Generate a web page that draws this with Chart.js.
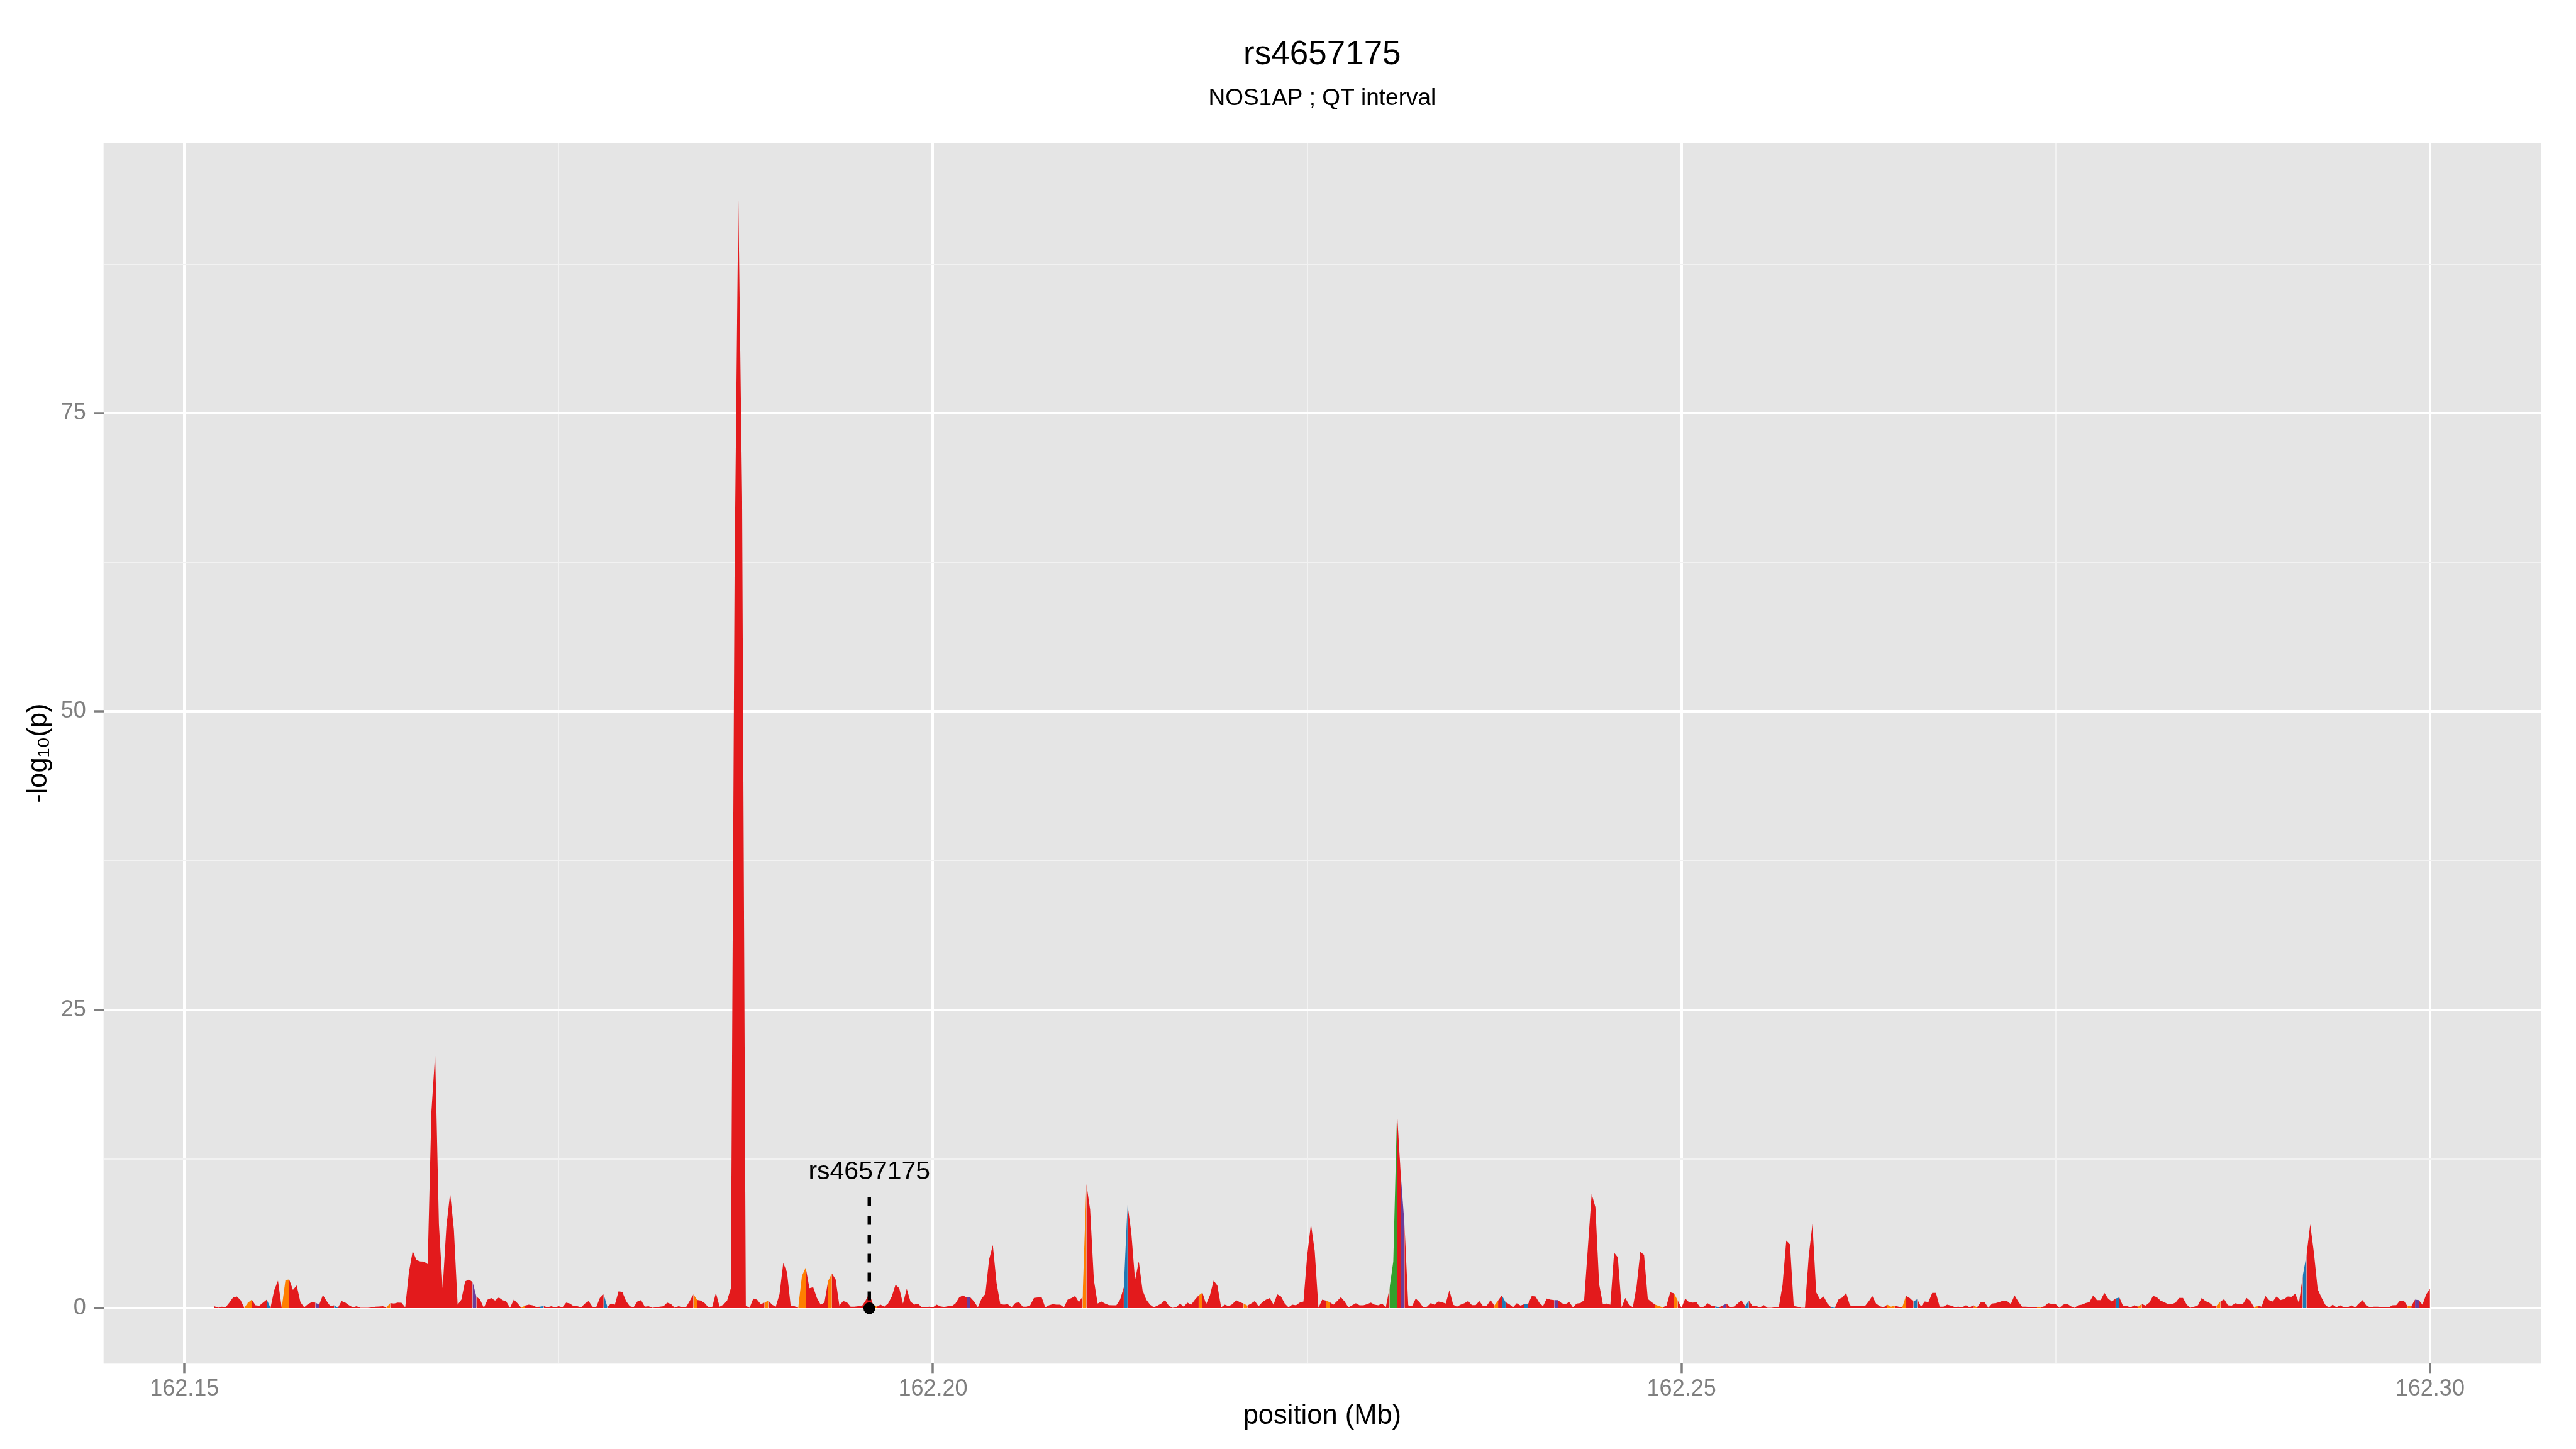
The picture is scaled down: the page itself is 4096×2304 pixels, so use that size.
<!DOCTYPE html>
<html>
<head>
<meta charset="utf-8">
<title>rs4657175 - NOS1AP ; QT interval</title>
<script src="https://cdn.jsdelivr.net/npm/chart.js@4.4.1/dist/chart.umd.min.js"></script>
<style>
  html, body { margin: 0; padding: 0; background: #ffffff; }
  #wrap { width: 4096px; height: 2304px; }
</style>
</head>
<body>
<div id="wrap"><canvas id="locusChart" width="4096" height="2304"></canvas></div>
<script>
// SNP positions (Mb), 8 per row
const positionMb = [
  162.15200, 162.15225, 162.15250, 162.15275, 162.15300, 162.15325, 162.15350, 162.15375,
  162.15400, 162.15425, 162.15450, 162.15475, 162.15500, 162.15525, 162.15550, 162.15575,
  162.15600, 162.15625, 162.15650, 162.15675, 162.15700, 162.15725, 162.15750, 162.15775,
  162.15800, 162.15825, 162.15850, 162.15875, 162.15900, 162.15925, 162.15950, 162.15975,
  162.16000, 162.16025, 162.16050, 162.16075, 162.16100, 162.16125, 162.16150, 162.16175,
  162.16200, 162.16225, 162.16250, 162.16275, 162.16300, 162.16325, 162.16350, 162.16375,
  162.16400, 162.16425, 162.16450, 162.16475, 162.16500, 162.16525, 162.16550, 162.16575,
  162.16600, 162.16625, 162.16650, 162.16675, 162.16700, 162.16725, 162.16750, 162.16775,
  162.16800, 162.16825, 162.16850, 162.16875, 162.16900, 162.16925, 162.16950, 162.16975,
  162.17000, 162.17025, 162.17050, 162.17075, 162.17100, 162.17125, 162.17150, 162.17175,
  162.17200, 162.17225, 162.17250, 162.17275, 162.17300, 162.17325, 162.17350, 162.17375,
  162.17400, 162.17425, 162.17450, 162.17475, 162.17500, 162.17525, 162.17550, 162.17575,
  162.17600, 162.17625, 162.17650, 162.17675, 162.17700, 162.17725, 162.17750, 162.17775,
  162.17800, 162.17825, 162.17850, 162.17875, 162.17900, 162.17925, 162.17950, 162.17975,
  162.18000, 162.18025, 162.18050, 162.18075, 162.18100, 162.18125, 162.18150, 162.18175,
  162.18200, 162.18225, 162.18250, 162.18275, 162.18300, 162.18325, 162.18350, 162.18375,
  162.18400, 162.18425, 162.18450, 162.18475, 162.18500, 162.18525, 162.18550, 162.18575,
  162.18600, 162.18625, 162.18650, 162.18675, 162.18700, 162.18725, 162.18750, 162.18775,
  162.18800, 162.18825, 162.18850, 162.18875, 162.18900, 162.18925, 162.18950, 162.18975,
  162.19000, 162.19025, 162.19050, 162.19075, 162.19100, 162.19125, 162.19150, 162.19175,
  162.19200, 162.19225, 162.19250, 162.19275, 162.19300, 162.19325, 162.19350, 162.19375,
  162.19400, 162.19425, 162.19450, 162.19475, 162.19500, 162.19525, 162.19550, 162.19575,
  162.19600, 162.19625, 162.19650, 162.19675, 162.19700, 162.19725, 162.19750, 162.19775,
  162.19800, 162.19825, 162.19850, 162.19875, 162.19900, 162.19925, 162.19950, 162.19975,
  162.20000, 162.20025, 162.20050, 162.20075, 162.20100, 162.20125, 162.20150, 162.20175,
  162.20200, 162.20225, 162.20250, 162.20275, 162.20300, 162.20325, 162.20350, 162.20375,
  162.20400, 162.20425, 162.20450, 162.20475, 162.20500, 162.20525, 162.20550, 162.20575,
  162.20600, 162.20625, 162.20650, 162.20675, 162.20700, 162.20725, 162.20750, 162.20775,
  162.20800, 162.20825, 162.20850, 162.20875, 162.20900, 162.20925, 162.20950, 162.20975,
  162.21000, 162.21025, 162.21050, 162.21075, 162.21100, 162.21125, 162.21150, 162.21175,
  162.21200, 162.21225, 162.21250, 162.21275, 162.21300, 162.21325, 162.21350, 162.21375,
  162.21400, 162.21425, 162.21450, 162.21475, 162.21500, 162.21525, 162.21550, 162.21575,
  162.21600, 162.21625, 162.21650, 162.21675, 162.21700, 162.21725, 162.21750, 162.21775,
  162.21800, 162.21825, 162.21850, 162.21875, 162.21900, 162.21925, 162.21950, 162.21975,
  162.22000, 162.22025, 162.22050, 162.22075, 162.22100, 162.22125, 162.22150, 162.22175,
  162.22200, 162.22225, 162.22250, 162.22275, 162.22300, 162.22325, 162.22350, 162.22375,
  162.22400, 162.22425, 162.22450, 162.22475, 162.22500, 162.22525, 162.22550, 162.22575,
  162.22600, 162.22625, 162.22650, 162.22675, 162.22700, 162.22725, 162.22750, 162.22775,
  162.22800, 162.22825, 162.22850, 162.22875, 162.22900, 162.22925, 162.22950, 162.22975,
  162.23000, 162.23025, 162.23050, 162.23075, 162.23100, 162.23125, 162.23150, 162.23175,
  162.23200, 162.23225, 162.23250, 162.23275, 162.23300, 162.23325, 162.23350, 162.23375,
  162.23400, 162.23425, 162.23450, 162.23475, 162.23500, 162.23525, 162.23550, 162.23575,
  162.23600, 162.23625, 162.23650, 162.23675, 162.23700, 162.23725, 162.23750, 162.23775,
  162.23800, 162.23825, 162.23850, 162.23875, 162.23900, 162.23925, 162.23950, 162.23975,
  162.24000, 162.24025, 162.24050, 162.24075, 162.24100, 162.24125, 162.24150, 162.24175,
  162.24200, 162.24225, 162.24250, 162.24275, 162.24300, 162.24325, 162.24350, 162.24375,
  162.24400, 162.24425, 162.24450, 162.24475, 162.24500, 162.24525, 162.24550, 162.24575,
  162.24600, 162.24625, 162.24650, 162.24675, 162.24700, 162.24725, 162.24750, 162.24775,
  162.24800, 162.24825, 162.24850, 162.24875, 162.24900, 162.24925, 162.24950, 162.24975,
  162.25000, 162.25025, 162.25050, 162.25075, 162.25100, 162.25125, 162.25150, 162.25175,
  162.25200, 162.25225, 162.25250, 162.25275, 162.25300, 162.25325, 162.25350, 162.25375,
  162.25400, 162.25425, 162.25450, 162.25475, 162.25500, 162.25525, 162.25550, 162.25575,
  162.25600, 162.25625, 162.25650, 162.25675, 162.25700, 162.25725, 162.25750, 162.25775,
  162.25800, 162.25825, 162.25850, 162.25875, 162.25900, 162.25925, 162.25950, 162.25975,
  162.26000, 162.26025, 162.26050, 162.26075, 162.26100, 162.26125, 162.26150, 162.26175,
  162.26200, 162.26225, 162.26250, 162.26275, 162.26300, 162.26325, 162.26350, 162.26375,
  162.26400, 162.26425, 162.26450, 162.26475, 162.26500, 162.26525, 162.26550, 162.26575,
  162.26600, 162.26625, 162.26650, 162.26675, 162.26700, 162.26725, 162.26750, 162.26775,
  162.26800, 162.26825, 162.26850, 162.26875, 162.26900, 162.26925, 162.26950, 162.26975,
  162.27000, 162.27025, 162.27050, 162.27075, 162.27100, 162.27125, 162.27150, 162.27175,
  162.27200, 162.27225, 162.27250, 162.27275, 162.27300, 162.27325, 162.27350, 162.27375,
  162.27400, 162.27425, 162.27450, 162.27475, 162.27500, 162.27525, 162.27550, 162.27575,
  162.27600, 162.27625, 162.27650, 162.27675, 162.27700, 162.27725, 162.27750, 162.27775,
  162.27800, 162.27825, 162.27850, 162.27875, 162.27900, 162.27925, 162.27950, 162.27975,
  162.28000, 162.28025, 162.28050, 162.28075, 162.28100, 162.28125, 162.28150, 162.28175,
  162.28200, 162.28225, 162.28250, 162.28275, 162.28300, 162.28325, 162.28350, 162.28375,
  162.28400, 162.28425, 162.28450, 162.28475, 162.28500, 162.28525, 162.28550, 162.28575,
  162.28600, 162.28625, 162.28650, 162.28675, 162.28700, 162.28725, 162.28750, 162.28775,
  162.28800, 162.28825, 162.28850, 162.28875, 162.28900, 162.28925, 162.28950, 162.28975,
  162.29000, 162.29025, 162.29050, 162.29075, 162.29100, 162.29125, 162.29150, 162.29175,
  162.29200, 162.29225, 162.29250, 162.29275, 162.29300, 162.29325, 162.29350, 162.29375,
  162.29400, 162.29425, 162.29450, 162.29475, 162.29500, 162.29525, 162.29550, 162.29575,
  162.29600, 162.29625, 162.29650, 162.29675, 162.29700, 162.29725, 162.29750, 162.29775,
  162.29800, 162.29825, 162.29850, 162.29875, 162.29900, 162.29925, 162.29950, 162.29975,
  162.30000
];

// -log10(p), same rows as positionMb
const logP = [
  0.16, 0.03, 0.12, 0.07, 0.47, 0.9, 0.98, 0.67,
  0.03, 0.47, 0.72, 0.24, 0.2, 0.47, 0.71, 0.03,
  1.5, 2.31, 0.03, 2.36, 2.4, 1.53, 1.9, 0.5,
  0.07, 0.33, 0.5, 0.47, 0.29, 1.1, 0.6, 0.16,
  0.24, 0.03, 0.59, 0.47, 0.24, 0.07, 0.16, 0.03,
  0.03, 0.03, 0.05, 0.12, 0.14, 0.16, 0.07, 0.43,
  0.38, 0.47, 0.45, 0.07, 3.05, 4.78, 4.03, 3.91,
  3.9, 3.69, 16.5, 21.3, 7.02, 1.67, 6.84, 9.64,
  6.59, 0.29, 0.72, 2.24, 2.4, 2.19, 0.98, 0.72,
  0.03, 0.72, 0.84, 0.64, 0.9, 0.67, 0.55, 0.03,
  0.72, 0.41, 0.03, 0.21, 0.29, 0.24, 0.09, 0.12,
  0.17, 0.07, 0.16, 0.07, 0.16, 0.07, 0.47, 0.38,
  0.16, 0.16, 0.07, 0.38, 0.6, 0.12, 0.07, 0.86,
  1.16, 0.12, 0.38, 0.29, 1.41, 1.36, 0.6, 0.16,
  0.07, 0.55, 0.67, 0.12, 0.16, 0.03, 0.07, 0.12,
  0.16, 0.47, 0.34, 0.03, 0.16, 0.09, 0.07, 0.6,
  1.16, 0.69, 0.64, 0.43, 0.07, 0.07, 1.28, 0.12,
  0.29, 0.64, 1.67, 62, 93, 68, 0.2, 0.03,
  0.81, 0.72, 0.33, 0.47, 0.64, 0.29, 0.12, 1.16,
  3.79, 3.02, 0.16, 0.16, 0.03, 2.71, 3.4, 1.67,
  1.76, 0.86, 0.29, 0.47, 2.28, 2.91, 2.4, 0.21,
  0.6, 0.5, 0.12, 0.12, 0.16, 0.16, 0.64, 1.24,
  0.29, 0.12, 0.29, 0.12, 0.38, 0.98, 1.97, 1.67,
  0.38, 1.62, 0.55, 0.29, 0.38, 0.07, 0.07, 0.12,
  0.07, 0.29, 0.15, 0.09, 0.16, 0.16, 0.38, 0.9,
  1.07, 0.9, 0.9, 0.55, 0.07, 0.81, 1.19, 4.07,
  5.29, 2.1, 0.33, 0.29, 0.33, 0.07, 0.43, 0.5,
  0.12, 0.12, 0.26, 0.86, 0.9, 0.95, 0.07, 0.24,
  0.33, 0.29, 0.29, 0.07, 0.72, 0.84, 1.02, 0.5,
  0.98, 10.41, 8.26, 2.36, 0.38, 0.55, 0.38, 0.26,
  0.24, 0.24, 0.72, 1.76, 8.66, 6.33, 2.36, 3.91,
  1.5, 0.72, 0.29, 0.07, 0.21, 0.38, 0.67, 0.21,
  0.03, 0.07, 0.38, 0.12, 0.47, 0.29, 0.72, 1.07,
  1.29, 0.33, 1.07, 2.31, 1.9, 0.07, 0.29, 0.16,
  0.33, 0.67, 0.5, 0.38, 0.21, 0.38, 0.59, 0.16,
  0.5, 0.72, 0.84, 0.29, 1.16, 0.98, 0.38, 0.07,
  0.29, 0.24, 0.47, 0.55, 4.43, 7.07, 4.8, 0.03,
  0.72, 0.64, 0.5, 0.29, 0.6, 0.93, 0.55, 0.07,
  0.24, 0.41, 0.24, 0.24, 0.33, 0.47, 0.29, 0.24,
  0.38, 0.07, 1.67, 3.91, 16.41, 11.16, 7.02, 0.24,
  0.16, 0.81, 0.5, 0.07, 0.12, 0.43, 0.29, 0.55,
  0.5, 0.38, 1.5, 0.29, 0.12, 0.29, 0.41, 0.59,
  0.26, 0.26, 0.6, 0.16, 0.21, 0.67, 0.21, 0.64,
  1.07, 0.5, 0.33, 0.07, 0.41, 0.21, 0.33, 0.33,
  1.02, 0.98, 0.47, 0.16, 0.81, 0.72, 0.67, 0.67,
  0.41, 0.33, 0.52, 0.07, 0.38, 0.43, 0.67, 5.12,
  9.57, 8.48, 2.02, 0.33, 0.38, 0.29, 4.66, 4.26,
  0.07, 0.86, 0.29, 0.07, 1.84, 4.72, 4.47, 0.78,
  0.5, 0.29, 0.17, 0.07, 0.21, 1.33, 1.24, 0.64,
  0.03, 0.81, 0.5, 0.47, 0.5, 0.07, 0.12, 0.41,
  0.21, 0.16, 0.07, 0.21, 0.38, 0.09, 0.12, 0.38,
  0.67, 0.16, 0.64, 0.16, 0.17, 0.07, 0.26, 0.03,
  0.03, 0.07, 0.07, 1.93, 5.67, 5.34, 0.17, 0.12,
  0.03, 0.03, 4.34, 7.07, 1.33, 0.76, 0.98, 0.38,
  0.07, 0.03, 0.76, 0.9, 1.28, 0.24, 0.16, 0.16,
  0.16, 0.16, 0.55, 1.02, 0.38, 0.16, 0.07, 0.29,
  0.12, 0.21, 0.12, 0.07, 1.03, 0.84, 0.55, 0.76,
  0.12, 0.55, 0.52, 1.28, 1.28, 0.12, 0.12, 0.29,
  0.21, 0.09, 0.12, 0.07, 0.24, 0.07, 0.24, 0.07,
  0.5, 0.5, 0.03, 0.38, 0.43, 0.52, 0.64, 0.6,
  0.34, 1.07, 0.55, 0.12, 0.12, 0.09, 0.07, 0.07,
  0.07, 0.16, 0.43, 0.34, 0.33, 0.03, 0.29, 0.38,
  0.16, 0.03, 0.24, 0.29, 0.43, 0.5, 1.07, 0.67,
  0.67, 1.28, 0.81, 0.55, 0.81, 0.9, 0.17, 0.17,
  0.07, 0.24, 0.12, 0.34, 0.21, 0.47, 1.03, 0.93,
  0.64, 0.5, 0.33, 0.33, 0.47, 0.86, 0.86, 0.29,
  0.03, 0.12, 0.24, 0.86, 0.6, 0.47, 0.21, 0.21,
  0.55, 0.76, 0.24, 0.21, 0.41, 0.33, 0.34, 0.86,
  0.6, 0.07, 0.21, 0.12, 1.03, 0.67, 0.55, 0.98,
  0.67, 0.76, 0.98, 0.95, 1.21, 0.43, 2.71, 4.43,
  7.02, 4.6, 1.59, 0.9, 0.29, 0.03, 0.29, 0.07,
  0.24, 0.07, 0.07, 0.24, 0.07, 0.38, 0.67, 0.21,
  0.07, 0.12, 0.12, 0.09, 0.07, 0.07, 0.24, 0.26,
  0.64, 0.64, 0.16, 0.16, 0.72, 0.67, 0.29, 1.16,
  1.62
];

// LD bins: position where a non-red band starts (band runs to the next SNP)
const ldOrange = [162.154, 162.15425, 162.1565, 162.15675, 162.1635, 162.1725, 162.184, 162.18875,
  162.191, 162.19125, 162.193, 162.196, 162.21, 162.21775, 162.22075, 162.22625, 162.2375,
  162.24825, 162.2485, 162.2495, 162.26375, 162.264, 162.26475, 162.2695, 162.27375,
  162.2805, 162.28575, 162.28825, 162.2985];
const ldBlue = [162.1555, 162.16, 162.17375, 162.178, 162.21275, 162.238, 162.2395, 162.25225,
  162.25425, 162.26, 162.2655, 162.279, 162.2915];
const ldPurple = [162.15875, 162.16925, 162.20225, 162.23125, 162.2415, 162.25275, 162.299];
const ldGreen = [162.2305, 162.23075];

const xTicks = [162.15, 162.175, 162.20, 162.225, 162.25, 162.275, 162.30];
const xLabelled = [162.15, 162.20, 162.25, 162.30];
const yTicks = [0, 12.5, 25, 37.5, 50, 62.5, 75, 87.5];
const yLabelled = [0, 25, 50, 75];

const leadSnp = 'rs4657175';
const leadSnpMb = 162.19575;
const leadLineTop = 9.3;
const leadLabelY = 11.4;

const RED = '#E31A1C';
const keyOf = v => Math.round(v * 1e5);
const ldLookup = new Map();
[[ldOrange, '#FF7F00'], [ldBlue, '#1F78B4'], [ldPurple, '#6A3D9A'], [ldGreen, '#33A02C']]
  .forEach(([starts, colour]) => starts.forEach(p => ldLookup.set(keyOf(p), colour)));

function bandColour(i) {
  return ldLookup.get(keyOf(positionMb[i])) || RED;
}
function isLabelled(list, v) {
  return list.some(t => Math.abs(t - v) < 1e-6);
}

Chart.defaults.font.family = '"Liberation Sans", Arial, Helvetica, sans-serif';

// grey panel like ggplot
const panelBackground = {
  id: 'panelBackground',
  beforeDraw(chart) {
    const { ctx, chartArea: a } = chart;
    ctx.save();
    ctx.fillStyle = '#ffffff';
    ctx.fillRect(0, 0, chart.width, chart.height);
    ctx.fillStyle = '#E5E5E5';
    ctx.fillRect(a.left, a.top, a.right - a.left, a.bottom - a.top);
    ctx.restore();
  }
};

const leadLabel = {
  id: 'leadLabel',
  afterDatasetsDraw(chart) {
    const { ctx, scales: { x, y } } = chart;
    ctx.save();
    ctx.font = '41px "Liberation Sans", Arial, sans-serif';
    ctx.fillStyle = '#000000';
    ctx.textAlign = 'center';
    ctx.textBaseline = 'middle';
    ctx.fillText(leadSnp, x.getPixelForValue(leadSnpMb), y.getPixelForValue(leadLabelY));
    ctx.restore();
  }
};

new Chart(document.getElementById('locusChart'), {
  type: 'line',
  data: {
    datasets: [{
      type: 'scatter',
      label: leadSnp,
      data: [{ x: leadSnpMb, y: 0 }],
      order: 0,
      pointRadius: 9.4,
      pointBackgroundColor: '#000000',
      pointBorderWidth: 0
    }, {
      label: 'marker',
      data: [{ x: leadSnpMb, y: leadLineTop }, { x: leadSnpMb, y: 0 }],
      order: 1,
      borderColor: '#000000',
      borderWidth: 5.5,
      borderDash: [14, 16],
      pointRadius: 0,
      fill: false
    }, {
      label: '-log10(p)',
      data: positionMb.map((x, i) => ({ x: x, y: logP[i] })),
      order: 2,
      fill: 'origin',
      backgroundColor: RED,
      borderColor: 'rgba(0,0,0,0)',
      borderWidth: 0,
      pointRadius: 0,
      tension: 0,
      segment: {
        backgroundColor: c => bandColour(c.p0DataIndex)
      }
    }]
  },
  options: {
    responsive: false,
    animation: false,
    devicePixelRatio: 1,
    layout: { padding: { left: 0, right: 56, top: 0, bottom: 0 } },
    plugins: {
      legend: { display: false },
      tooltip: { enabled: false },
      // not fullSize: centred over the panel, as ggplot does
      title: {
        display: true,
        fullSize: false,
        text: 'rs4657175',
        color: '#000000',
        font: { size: 53, weight: 'normal' },
        padding: { top: 56, bottom: 15 }
      },
      subtitle: {
        display: true,
        fullSize: false,
        text: 'NOS1AP ; QT interval',
        color: '#000000',
        font: { size: 37, weight: 'normal' },
        padding: { top: 0, bottom: 48 }
      }
    },
    scales: {
      x: {
        type: 'linear',
        min: 162.1446,
        max: 162.3074,
        afterBuildTicks: s => { s.ticks = xTicks.map(v => ({ value: v })); },
        afterFit: s => { s.height = 135.7; },
        border: { display: false },
        grid: {
          color: c => (c.tick && isLabelled(xLabelled, c.tick.value)) ? '#FFFFFF' : '#F2F2F2',
          lineWidth: c => (c.tick && isLabelled(xLabelled, c.tick.value)) ? 4 : 2,
          drawTicks: true,
          tickLength: 15,
          tickWidth: 3.5,
          tickColor: c => (c.tick && isLabelled(xLabelled, c.tick.value)) ? '#7F7F7F' : 'rgba(0,0,0,0)'
        },
        ticks: {
          color: '#7F7F7F',
          font: { size: 36 },
          padding: 4,
          autoSkip: false,
          maxRotation: 0,
          minRotation: 0,
          callback: v => isLabelled(xLabelled, v) ? v.toFixed(2) : ''
        },
        title: {
          display: true,
          text: 'position (Mb)',
          color: '#000000',
          font: { size: 43.5 },
          padding: { top: 0, bottom: 26 }
        }
      },
      y: {
        type: 'linear',
        min: -4.65,
        max: 97.65,
        afterBuildTicks: s => { s.ticks = yTicks.map(v => ({ value: v })); },
        afterFit: s => { s.width = 164.7; },
        border: { display: false },
        grid: {
          color: c => (c.tick && isLabelled(yLabelled, c.tick.value)) ? '#FFFFFF' : '#F2F2F2',
          lineWidth: c => (c.tick && isLabelled(yLabelled, c.tick.value)) ? 4 : 2,
          drawTicks: true,
          tickLength: 15,
          tickWidth: 3.5,
          tickColor: c => (c.tick && isLabelled(yLabelled, c.tick.value)) ? '#7F7F7F' : 'rgba(0,0,0,0)'
        },
        ticks: {
          color: '#7F7F7F',
          font: { size: 36 },
          padding: 13,
          autoSkip: false,
          callback: v => isLabelled(yLabelled, v) ? String(v) : ''
        },
        title: {
          display: true,
          text: '-log₁₀(p)',
          color: '#000000',
          font: { size: 43.5 },
          padding: { top: 36, bottom: 0 }
        }
      }
    }
  },
  plugins: [panelBackground, leadLabel]
});
</script>
</body>
</html>
